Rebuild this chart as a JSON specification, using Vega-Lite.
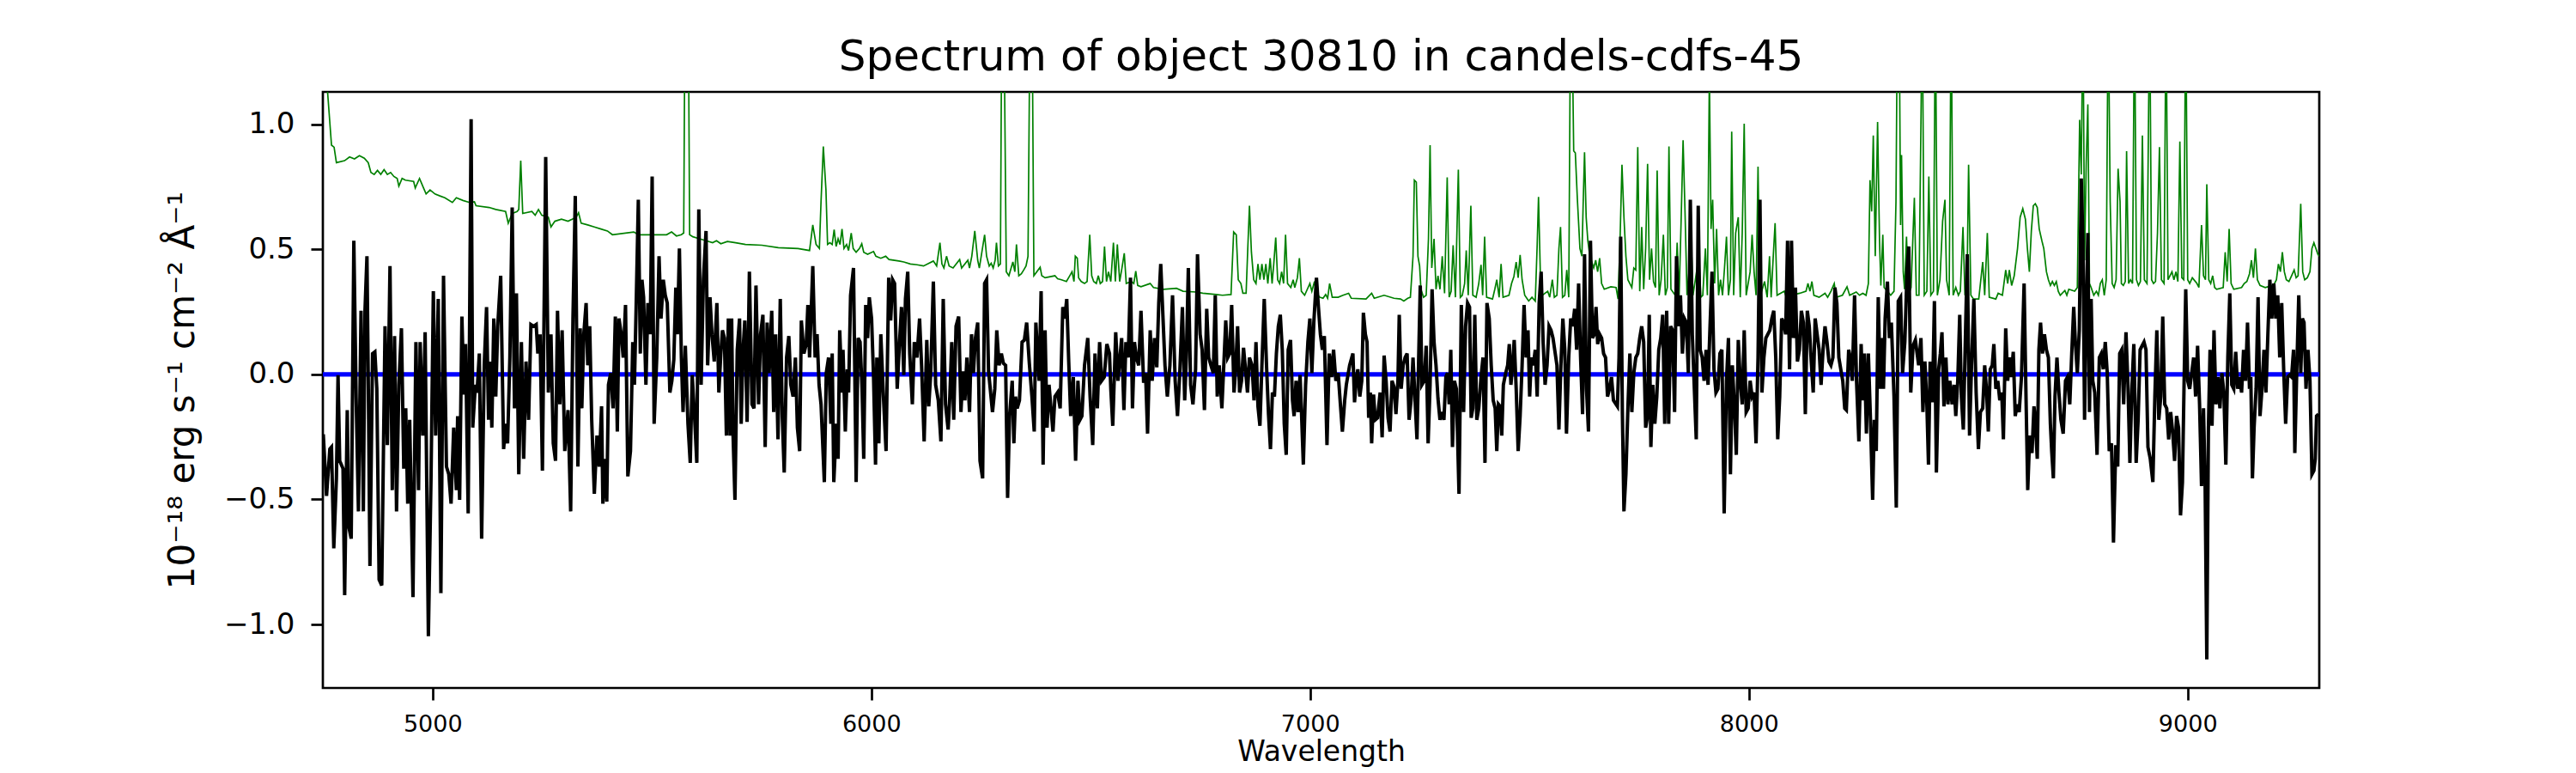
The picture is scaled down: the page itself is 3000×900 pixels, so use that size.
{
  "$schema": "https://vega.github.io/schema/vega-lite/v6.json",
  "description": "Spectrum of object 30810 with model (green) and zero level (blue).",
  "autosize": {"type": "none"},
  "padding": {"left": 376, "top": 107, "right": 299, "bottom": 100},
  "width": 2325,
  "height": 694,
  "background": "white",
  "title": {
    "text": "Spectrum of object 30810 in candels-cdfs-45",
    "font": "DejaVu Sans",
    "fontSize": 50,
    "fontWeight": "normal",
    "color": "black",
    "anchor": "middle",
    "baseline": "alphabetic",
    "offset": 22,
    "dy": 47
  },
  "config": {
    "view": {"stroke": "black", "strokeWidth": 2.7},
    "axis": {
      "domain": false,
      "grid": false,
      "ticks": true,
      "tickColor": "black",
      "tickWidth": 2.7,
      "tickSize": 14,
      "labelColor": "black",
      "labelFont": "DejaVu Sans",
      "titleFont": "DejaVu Sans",
      "titleFontWeight": "normal",
      "titleColor": "black"
    }
  },
  "datasets": {
    "model": [
      {"w":4751,"f":1.6},{"w":4760.7,"f":1.13},{"w":4769.7,"f":0.916},{"w":4775.6,"f":0.908},{"w":4780.9,"f":0.846},{"w":4799.6,"f":0.854},{"w":4810.8,"f":0.869},{"w":4822.1,"f":0.861},{"w":4833.3,"f":0.874},{"w":4844.5,"f":0.864},{"w":4853.5,"f":0.846},{"w":4859.5,"f":0.807},{"w":4867.0,"f":0.799},{"w":4874.5,"f":0.815},{"w":4882.0,"f":0.799},{"w":4889.5,"f":0.818},{"w":4897.0,"f":0.799},{"w":4904.4,"f":0.807},{"w":4911.9,"f":0.791},{"w":4919.4,"f":0.783},{"w":4923.2,"f":0.752},{"w":4930.6,"f":0.783},{"w":4938.1,"f":0.776},{"w":4956.9,"f":0.771},{"w":4960.6,"f":0.745},{"w":4970.3,"f":0.783},{"w":4977.8,"f":0.752},{"w":4985.3,"f":0.721},{"w":4994.3,"f":0.737},{"w":5005.5,"f":0.721},{"w":5016.8,"f":0.713},{"w":5028.0,"f":0.706},{"w":5045.2,"f":0.687},{"w":5054.2,"f":0.706},{"w":5069.2,"f":0.695},{"w":5084.2,"f":0.687},{"w":5095.4,"f":0.690},{"w":5099.1,"f":0.674},{"w":5129.1,"f":0.667},{"w":5144.1,"f":0.659},{"w":5166.5,"f":0.651},{"w":5172.5,"f":0.604},{"w":5181.5,"f":0.643},{"w":5192.7,"f":0.651},{"w":5196.5,"f":0.659},{"w":5201.0,"f":0.854},{"w":5205.5,"f":0.643},{"w":5226.4,"f":0.651},{"w":5233.9,"f":0.636},{"w":5241.4,"f":0.659},{"w":5248.9,"f":0.636},{"w":5263.9,"f":0.628},{"w":5269.9,"f":0.589},{"w":5278.8,"f":0.612},{"w":5293.8,"f":0.620},{"w":5308.8,"f":0.612},{"w":5327.5,"f":0.628},{"w":5332.8,"f":0.646},{"w":5338.7,"f":0.604},{"w":5353.7,"f":0.597},{"w":5368.7,"f":0.589},{"w":5383.7,"f":0.581},{"w":5398.6,"f":0.573},{"w":5409.9,"f":0.558},{"w":5458.5,"f":0.569},{"w":5469.8,"f":0.558},{"w":5533.4,"f":0.558},{"w":5544.7,"f":0.569},{"w":5555.9,"f":0.553},{"w":5567.1,"f":0.558},{"w":5572.4,"f":0.565},{"w":5575.4,"f":1.5},{"w":5578.4,"f":3.0},{"w":5582.8,"f":1.5},{"w":5585.9,"f":0.558},{"w":5593.3,"f":0.550},{"w":5608.3,"f":0.542},{"w":5623.3,"f":0.534},{"w":5638.3,"f":0.526},{"w":5647.2,"f":0.534},{"w":5657.0,"f":0.522},{"w":5672.0,"f":0.531},{"w":5690.7,"f":0.526},{"w":5713.1,"f":0.519},{"w":5750.6,"f":0.516},{"w":5788.0,"f":0.506},{"w":5833.0,"f":0.503},{"w":5859.2,"f":0.495},{"w":5866.6,"f":0.597},{"w":5874.1,"f":0.519},{"w":5881.6,"f":0.503},{"w":5885.4,"f":0.690},{"w":5890.6,"f":0.911},{"w":5896.6,"f":0.737},{"w":5900.3,"f":0.519},{"w":5905.5,"f":0.526},{"w":5910.8,"f":0.519},{"w":5915.3,"f":0.578},{"w":5919.8,"f":0.511},{"w":5924.3,"f":0.542},{"w":5928.7,"f":0.519},{"w":5933.2,"f":0.581},{"w":5937.7,"f":0.503},{"w":5943.7,"f":0.519},{"w":5948.2,"f":0.495},{"w":5954.2,"f":0.565},{"w":5958.7,"f":0.503},{"w":5965.4,"f":0.488},{"w":5972.9,"f":0.503},{"w":5978.2,"f":0.522},{"w":5982.7,"f":0.488},{"w":5991.6,"f":0.480},{"w":6005.1,"f":0.491},{"w":6010.4,"f":0.472},{"w":6021.6,"f":0.464},{"w":6032.8,"f":0.472},{"w":6040.3,"f":0.459},{"w":6062.8,"f":0.453},{"w":6074.0,"f":0.449},{"w":6089.0,"f":0.441},{"w":6104.0,"f":0.438},{"w":6119.0,"f":0.433},{"w":6141.4,"f":0.453},{"w":6148.9,"f":0.433},{"w":6156.4,"f":0.526},{"w":6160.9,"f":0.441},{"w":6165.4,"f":0.425},{"w":6171.4,"f":0.472},{"w":6177.3,"f":0.433},{"w":6186.3,"f":0.425},{"w":6201.3,"f":0.459},{"w":6205.8,"f":0.425},{"w":6220.0,"f":0.456},{"w":6223.8,"f":0.425},{"w":6229.0,"f":0.472},{"w":6235.8,"f":0.573},{"w":6242.5,"f":0.456},{"w":6246.2,"f":0.425},{"w":6258.2,"f":0.558},{"w":6262.7,"f":0.472},{"w":6268.7,"f":0.433},{"w":6273.2,"f":0.444},{"w":6277.7,"f":0.425},{"w":6282.2,"f":0.456},{"w":6285.2,"f":0.526},{"w":6289.7,"f":0.433},{"w":6294.2,"f":0.441},{"w":6296.5,"f":1.2},{"w":6300.0,"f":3.0},{"w":6303.5,"f":1.2},{"w":6307.6,"f":0.410},{"w":6313.6,"f":0.394},{"w":6322.6,"f":0.449},{"w":6327.1,"f":0.410},{"w":6330.8,"f":0.519},{"w":6336.1,"f":0.394},{"w":6342.1,"f":0.402},{"w":6347.3,"f":0.417},{"w":6352.6,"f":0.433},{"w":6357.1,"f":0.472},{"w":6361.0,"f":1.3},{"w":6364.0,"f":3.0},{"w":6367.0,"f":1.3},{"w":6370.5,"f":0.394},{"w":6384.8,"f":0.428},{"w":6388.5,"f":0.394},{"w":6396.0,"f":0.386},{"w":6418.5,"f":0.394},{"w":6424.5,"f":0.382},{"w":6433.4,"f":0.378},{"w":6444.7,"f":0.371},{"w":6452.2,"f":0.394},{"w":6457.4,"f":0.410},{"w":6461.9,"f":0.371},{"w":6464.9,"f":0.472},{"w":6469.4,"f":0.464},{"w":6472.4,"f":0.386},{"w":6478.4,"f":0.371},{"w":6485.9,"f":0.363},{"w":6491.8,"f":0.371},{"w":6497.8,"f":0.558},{"w":6502.3,"f":0.394},{"w":6506.8,"f":0.371},{"w":6512.8,"f":0.363},{"w":6517.3,"f":0.394},{"w":6521.8,"f":0.363},{"w":6527.0,"f":0.371},{"w":6531.5,"f":0.511},{"w":6536.0,"f":0.371},{"w":6540.5,"f":0.410},{"w":6545.8,"f":0.371},{"w":6551.8,"f":0.526},{"w":6556.2,"f":0.371},{"w":6560.7,"f":0.519},{"w":6566.0,"f":0.371},{"w":6571.2,"f":0.425},{"w":6576.5,"f":0.484},{"w":6581.0,"f":0.363},{"w":6592.9,"f":0.371},{"w":6598.2,"f":0.363},{"w":6602.7,"f":0.413},{"w":6607.1,"f":0.355},{"w":6614.6,"f":0.350},{"w":6635.6,"f":0.363},{"w":6643.1,"f":0.347},{"w":6665.6,"f":0.340},{"w":6695.5,"f":0.344},{"w":6710.5,"f":0.332},{"w":6740.4,"f":0.329},{"w":6755.4,"f":0.324},{"w":6785.4,"f":0.319},{"w":6800.4,"f":0.316},{"w":6819.8,"f":0.319},{"w":6825.8,"f":0.569},{"w":6831.8,"f":0.558},{"w":6836.3,"f":0.378},{"w":6842.3,"f":0.363},{"w":6846.8,"f":0.324},{"w":6854.2,"f":0.324},{"w":6858.0,"f":0.503},{"w":6861.8,"f":0.674},{"w":6866.3,"f":0.488},{"w":6871.5,"f":0.378},{"w":6876.7,"f":0.363},{"w":6881.2,"f":0.441},{"w":6885.7,"f":0.378},{"w":6890.2,"f":0.441},{"w":6894.7,"f":0.378},{"w":6899.2,"f":0.441},{"w":6903.7,"f":0.363},{"w":6909.0,"f":0.464},{"w":6913.4,"f":0.363},{"w":6917.2,"f":0.441},{"w":6921.7,"f":0.547},{"w":6926.1,"f":0.378},{"w":6930.6,"f":0.363},{"w":6935.1,"f":0.410},{"w":6939.6,"f":0.363},{"w":6944.1,"f":0.558},{"w":6948.6,"f":0.363},{"w":6956.1,"f":0.347},{"w":6961.4,"f":0.378},{"w":6965.1,"f":0.347},{"w":6971.1,"f":0.386},{"w":6975.6,"f":0.464},{"w":6980.1,"f":0.332},{"w":6987.6,"f":0.316},{"w":6999.5,"f":0.363},{"w":7004.0,"f":0.332},{"w":7010.0,"f":0.371},{"w":7014.5,"f":0.324},{"w":7022.0,"f":0.308},{"w":7029.5,"f":0.304},{"w":7035.5,"f":0.319},{"w":7040.0,"f":0.304},{"w":7044.5,"f":0.363},{"w":7050.5,"f":0.308},{"w":7063.9,"f":0.308},{"w":7075.1,"f":0.316},{"w":7087.8,"f":0.324},{"w":7093.8,"f":0.304},{"w":7127.5,"f":0.301},{"w":7140.3,"f":0.324},{"w":7146.2,"f":0.304},{"w":7168.7,"f":0.316},{"w":7191.2,"f":0.304},{"w":7206.1,"f":0.301},{"w":7213.6,"f":0.293},{"w":7222.6,"f":0.304},{"w":7228.6,"f":0.308},{"w":7234.6,"f":0.472},{"w":7237.6,"f":0.776},{"w":7242.1,"f":0.768},{"w":7245.8,"f":0.472},{"w":7249.6,"f":0.433},{"w":7252.6,"f":0.340},{"w":7258.6,"f":0.308},{"w":7264.6,"f":0.316},{"w":7269.8,"f":0.542},{"w":7273.5,"f":0.916},{"w":7277.3,"f":0.425},{"w":7282.5,"f":0.542},{"w":7287.0,"f":0.340},{"w":7291.5,"f":0.394},{"w":7296.0,"f":0.340},{"w":7301.2,"f":0.472},{"w":7306.5,"f":0.324},{"w":7312.5,"f":0.787},{"w":7317.0,"f":0.308},{"w":7321.5,"f":0.332},{"w":7326.0,"f":0.516},{"w":7331.2,"f":0.308},{"w":7337.9,"f":0.818},{"w":7342.4,"f":0.308},{"w":7346.9,"f":0.316},{"w":7352.2,"f":0.363},{"w":7355.9,"f":0.495},{"w":7360.4,"f":0.316},{"w":7366.4,"f":0.674},{"w":7370.9,"f":0.316},{"w":7378.4,"f":0.308},{"w":7384.4,"f":0.363},{"w":7389.6,"f":0.438},{"w":7393.3,"f":0.316},{"w":7397.8,"f":0.550},{"w":7402.3,"f":0.308},{"w":7415.8,"f":0.301},{"w":7421.0,"f":0.340},{"w":7425.5,"f":0.378},{"w":7430.8,"f":0.308},{"w":7435.3,"f":0.441},{"w":7439.8,"f":0.308},{"w":7453.3,"f":0.316},{"w":7459.2,"f":0.363},{"w":7464.5,"f":0.391},{"w":7469.7,"f":0.449},{"w":7474.2,"f":0.386},{"w":7478.7,"f":0.477},{"w":7483.2,"f":0.378},{"w":7489.2,"f":0.316},{"w":7498.2,"f":0.293},{"w":7505.7,"f":0.308},{"w":7513.2,"f":0.293},{"w":7517.6,"f":0.519},{"w":7520.6,"f":0.709},{"w":7525.1,"f":0.378},{"w":7529.6,"f":0.316},{"w":7541.6,"f":0.332},{"w":7546.1,"f":0.308},{"w":7552.1,"f":0.378},{"w":7556.6,"f":0.308},{"w":7562.6,"f":0.316},{"w":7567.1,"f":0.503},{"w":7570.8,"f":0.589},{"w":7575.3,"f":0.308},{"w":7580.5,"f":0.316},{"w":7585.0,"f":0.417},{"w":7589.5,"f":0.308},{"w":7594.0,"f":1.6},{"w":7597.8,"f":1.3},{"w":7600.8,"f":0.893},{"w":7604.5,"f":0.885},{"w":7609.0,"f":0.706},{"w":7615.0,"f":0.503},{"w":7619.5,"f":0.472},{"w":7622.5,"f":0.690},{"w":7625.5,"f":0.888},{"w":7629.2,"f":0.628},{"w":7633.0,"f":0.534},{"w":7637.5,"f":0.472},{"w":7642.0,"f":0.449},{"w":7646.4,"f":0.425},{"w":7650.9,"f":0.456},{"w":7655.4,"f":0.410},{"w":7659.9,"f":0.464},{"w":7664.4,"f":0.363},{"w":7670.4,"f":0.340},{"w":7685.4,"f":0.350},{"w":7697.4,"f":0.347},{"w":7701.9,"f":0.301},{"w":7706.4,"f":0.534},{"w":7710.8,"f":0.838},{"w":7715.3,"f":0.628},{"w":7719.8,"f":0.472},{"w":7724.3,"f":0.378},{"w":7733.3,"f":0.347},{"w":7737.8,"f":0.425},{"w":7742.3,"f":0.417},{"w":7746.8,"f":0.908},{"w":7751.3,"f":0.332},{"w":7755.8,"f":0.589},{"w":7760.3,"f":0.340},{"w":7764.8,"f":0.503},{"w":7769.2,"f":0.841},{"w":7773.7,"f":0.378},{"w":7778.2,"f":0.503},{"w":7782.7,"f":0.371},{"w":7787.2,"f":0.347},{"w":7791.0,"f":0.815},{"w":7795.5,"f":0.316},{"w":7800.0,"f":0.378},{"w":7805.2,"f":0.558},{"w":7809.7,"f":0.316},{"w":7814.2,"f":0.347},{"w":7817.9,"f":0.911},{"w":7822.4,"f":0.340},{"w":7832.2,"f":0.316},{"w":7836.6,"f":0.526},{"w":7841.1,"f":0.316},{"w":7845.6,"f":0.612},{"w":7850.1,"f":0.936},{"w":7854.6,"f":0.643},{"w":7859.1,"f":0.316},{"w":7863.6,"f":0.410},{"w":7868.1,"f":0.565},{"w":7872.6,"f":0.316},{"w":7886.1,"f":0.472},{"w":7890.6,"f":0.308},{"w":7895.0,"f":0.316},{"w":7901.0,"f":0.503},{"w":7905.5,"f":0.316},{"w":7910.0,"f":1.2},{"w":7913.8,"f":0.581},{"w":7917.5,"f":0.698},{"w":7922.0,"f":0.363},{"w":7926.5,"f":0.581},{"w":7931.0,"f":0.316},{"w":7935.5,"f":0.378},{"w":7940.0,"f":0.316},{"w":7944.5,"f":0.425},{"w":7949.0,"f":0.550},{"w":7953.5,"f":0.316},{"w":7958.0,"f":0.378},{"w":7960.9,"f":0.970},{"w":7965.4,"f":0.316},{"w":7969.9,"f":0.565},{"w":7975.9,"f":0.628},{"w":7980.4,"f":0.308},{"w":7984.9,"f":0.565},{"w":7989.4,"f":1.002},{"w":7993.9,"f":0.316},{"w":8002.9,"f":0.410},{"w":8007.4,"f":0.558},{"w":8011.9,"f":0.410},{"w":8016.4,"f":0.316},{"w":8020.9,"f":0.830},{"w":8025.3,"f":0.308},{"w":8035.8,"f":0.371},{"w":8041.8,"f":0.308},{"w":8047.1,"f":0.472},{"w":8050.8,"f":0.308},{"w":8056.1,"f":0.488},{"w":8059.8,"f":0.604},{"w":8064.3,"f":0.316},{"w":8080.8,"f":0.332},{"w":8085.3,"f":0.308},{"w":8097.2,"f":0.316},{"w":8115.9,"f":0.324},{"w":8130.2,"f":0.332},{"w":8134.7,"f":0.363},{"w":8139.2,"f":0.332},{"w":8143.7,"f":0.371},{"w":8148.2,"f":0.316},{"w":8160.1,"f":0.308},{"w":8173.6,"f":0.324},{"w":8179.6,"f":0.308},{"w":8187.1,"f":0.332},{"w":8194.6,"f":0.363},{"w":8199.1,"f":0.308},{"w":8213.3,"f":0.316},{"w":8223.7,"f":0.350},{"w":8229.7,"f":0.316},{"w":8244.7,"f":0.329},{"w":8252.2,"f":0.316},{"w":8259.7,"f":0.324},{"w":8267.1,"f":0.316},{"w":8272.4,"f":0.363},{"w":8276.1,"f":0.776},{"w":8279.9,"f":0.651},{"w":8283.6,"f":0.955},{"w":8288.1,"f":0.472},{"w":8293.4,"f":1.009},{"w":8297.8,"f":0.534},{"w":8300.8,"f":0.355},{"w":8305.3,"f":0.558},{"w":8308.3,"f":0.347},{"w":8323.3,"f":0.316},{"w":8330.8,"f":0.332},{"w":8335.3,"f":0.690},{"w":8338.3,"f":1.4},{"w":8342.8,"f":1.4},{"w":8345.8,"f":0.597},{"w":8348.0,"f":0.877},{"w":8351.8,"f":0.410},{"w":8354.8,"f":0.340},{"w":8359.3,"f":0.550},{"w":8363.7,"f":0.316},{"w":8369.7,"f":0.347},{"w":8377.2,"f":0.706},{"w":8381.7,"f":0.316},{"w":8387.7,"f":0.316},{"w":8392.2,"f":1.002},{"w":8395.2,"f":1.5},{"w":8399.7,"f":0.316},{"w":8405.7,"f":0.332},{"w":8410.2,"f":0.791},{"w":8414.7,"f":0.316},{"w":8420.7,"f":0.332},{"w":8425.1,"f":1.5},{"w":8429.6,"f":0.316},{"w":8435.6,"f":0.378},{"w":8441.6,"f":0.612},{"w":8446.9,"f":0.698},{"w":8450.6,"f":0.378},{"w":8456.6,"f":0.316},{"w":8461.1,"f":1.5},{"w":8465.6,"f":0.316},{"w":8471.6,"f":0.347},{"w":8477.6,"f":0.316},{"w":8482.0,"f":0.332},{"w":8488.0,"f":0.589},{"w":8492.5,"f":0.316},{"w":8497.0,"f":0.332},{"w":8500.8,"f":0.838},{"w":8506.0,"f":0.316},{"w":8512.0,"f":0.301},{"w":8524.0,"f":0.301},{"w":8533.0,"f":0.449},{"w":8537.5,"f":0.316},{"w":8543.5,"f":0.565},{"w":8547.9,"f":0.308},{"w":8562.9,"f":0.301},{"w":8568.2,"f":0.324},{"w":8577.9,"f":0.316},{"w":8585.4,"f":0.417},{"w":8589.9,"f":0.363},{"w":8593.6,"f":0.417},{"w":8598.9,"f":0.355},{"w":8604.8,"f":0.394},{"w":8612.3,"f":0.503},{"w":8618.3,"f":0.628},{"w":8624.3,"f":0.662},{"w":8630.3,"f":0.620},{"w":8634.8,"f":0.503},{"w":8639.3,"f":0.410},{"w":8643.8,"f":0.573},{"w":8648.3,"f":0.674},{"w":8652.8,"f":0.682},{"w":8657.3,"f":0.667},{"w":8661.8,"f":0.581},{"w":8667.8,"f":0.534},{"w":8672.2,"f":0.503},{"w":8678.2,"f":0.410},{"w":8682.7,"f":0.378},{"w":8687.2,"f":0.355},{"w":8691.7,"f":0.371},{"w":8696.2,"f":0.355},{"w":8700.7,"f":0.371},{"w":8705.2,"f":0.332},{"w":8709.7,"f":0.316},{"w":8720.2,"f":0.335},{"w":8724.7,"f":0.316},{"w":8729.2,"f":0.340},{"w":8742.6,"f":0.332},{"w":8748.6,"f":0.347},{"w":8753.9,"f":1.017},{"w":8757.6,"f":0.799},{"w":8761.4,"f":1.5},{"w":8765.1,"f":0.456},{"w":8768.9,"f":0.846},{"w":8772.6,"f":1.079},{"w":8776.3,"f":0.363},{"w":8780.1,"f":0.347},{"w":8786.1,"f":0.316},{"w":8792.1,"f":0.332},{"w":8796.6,"f":0.316},{"w":8801.0,"f":0.363},{"w":8805.5,"f":0.378},{"w":8810.0,"f":0.316},{"w":8814.5,"f":0.378},{"w":8819.0,"f":1.5},{"w":8823.5,"f":0.690},{"w":8828.0,"f":0.363},{"w":8832.5,"f":0.347},{"w":8837.0,"f":0.378},{"w":8841.5,"f":0.822},{"w":8846.0,"f":0.690},{"w":8849.0,"f":0.363},{"w":8853.5,"f":0.355},{"w":8857.9,"f":0.371},{"w":8860.9,"f":0.892},{"w":8865.4,"f":0.363},{"w":8869.9,"f":0.378},{"w":8874.4,"f":0.363},{"w":8878.9,"f":1.5},{"w":8883.4,"f":0.378},{"w":8887.9,"f":0.355},{"w":8892.4,"f":0.371},{"w":8896.9,"f":0.955},{"w":8901.4,"f":0.378},{"w":8907.4,"f":0.363},{"w":8913.4,"f":1.5},{"w":8917.9,"f":0.378},{"w":8922.3,"f":0.363},{"w":8926.8,"f":0.371},{"w":8931.3,"f":0.565},{"w":8935.8,"f":0.908},{"w":8940.3,"f":0.378},{"w":8946.3,"f":0.363},{"w":8950.8,"f":1.5},{"w":8955.3,"f":0.378},{"w":8964.3,"f":0.410},{"w":8968.8,"f":0.378},{"w":8973.3,"f":0.410},{"w":8977.8,"f":0.371},{"w":8982.3,"f":0.931},{"w":8986.8,"f":0.386},{"w":8991.2,"f":0.378},{"w":8995.7,"f":1.5},{"w":9000.2,"f":0.378},{"w":9004.7,"f":0.363},{"w":9010.7,"f":0.386},{"w":9021.2,"f":0.363},{"w":9025.7,"f":0.347},{"w":9031.7,"f":0.597},{"w":9036.2,"f":0.394},{"w":9040.7,"f":0.378},{"w":9043.7,"f":0.760},{"w":9048.2,"f":0.378},{"w":9052.6,"f":0.363},{"w":9057.1,"f":0.394},{"w":9061.6,"f":0.347},{"w":9066.1,"f":0.340},{"w":9081.1,"f":0.347},{"w":9085.6,"f":0.488},{"w":9090.1,"f":0.371},{"w":9094.6,"f":0.581},{"w":9099.1,"f":0.363},{"w":9105.1,"f":0.340},{"w":9123.0,"f":0.347},{"w":9129.0,"f":0.363},{"w":9135.0,"f":0.371},{"w":9141.0,"f":0.402},{"w":9145.5,"f":0.456},{"w":9150.0,"f":0.386},{"w":9154.5,"f":0.503},{"w":9159.0,"f":0.378},{"w":9165.0,"f":0.355},{"w":9177.0,"f":0.347},{"w":9191.9,"f":0.355},{"w":9197.9,"f":0.363},{"w":9202.4,"f":0.378},{"w":9206.9,"f":0.441},{"w":9211.4,"f":0.410},{"w":9215.9,"f":0.488},{"w":9220.4,"f":0.410},{"w":9224.9,"f":0.378},{"w":9230.9,"f":0.371},{"w":9236.9,"f":0.394},{"w":9242.8,"f":0.417},{"w":9247.3,"f":0.386},{"w":9251.8,"f":0.394},{"w":9257.8,"f":0.682},{"w":9262.3,"f":0.410},{"w":9266.8,"f":0.378},{"w":9272.8,"f":0.386},{"w":9278.8,"f":0.410},{"w":9283.3,"f":0.503},{"w":9287.8,"f":0.526},{"w":9292.3,"f":0.503},{"w":9296.8,"f":0.480},{"w":9300.5,"f":0.472}
    ],
    "flux": [
      {"w":4751,"f":-0.240},{"w":4758.4,"f":-0.486},{"w":4765.9,"f":-0.299},{"w":4769.7,"f":-0.291},{"w":4774.9,"f":-0.696},{"w":4780.9,"f":-0.416},{"w":4784.6,"f":-0.003},{"w":4788.4,"f":-0.346},{"w":4795.9,"f":-0.377},{"w":4799.7,"f":-0.883},{"w":4805.6,"f":-0.143},{"w":4809.3,"f":-0.611},{"w":4814.6,"f":-0.657},{"w":4820.6,"f":0.534},{"w":4825.8,"f":-0.089},{"w":4831.1,"f":-0.548},{"w":4837.0,"f":0.254},{"w":4842.3,"f":-0.548},{"w":4846.0,"f":0.254},{"w":4850.5,"f":0.472},{"w":4853.5,"f":-0.026},{"w":4857.3,"f":-0.766},{"w":4863.3,"f":0.083},{"w":4868.5,"f":0.090},{"w":4873.0,"f":-0.058},{"w":4878.2,"f":-0.821},{"w":4884.2,"f":-0.844},{"w":4891.7,"f":0.192},{"w":4897.0,"f":-0.283},{"w":4903.0,"f":0.433},{"w":4908.2,"f":-0.463},{"w":4913.4,"f":0.153},{"w":4917.9,"f":-0.548},{"w":4923.2,"f":-0.042},{"w":4929.1,"f":0.184},{"w":4934.4,"f":-0.377},{"w":4938.9,"f":-0.136},{"w":4943.4,"f":-0.517},{"w":4947.9,"f":-0.182},{"w":4955.4,"f":-0.891},{"w":4962.1,"f":0.129},{"w":4968.1,"f":-0.463},{"w":4971.8,"f":0.129},{"w":4977.8,"f":-0.245},{"w":4983.1,"f":0.168},{"w":4990.5,"f":-1.047},{"w":4996.5,"f":-0.416},{"w":5001.8,"f":0.332},{"w":5007.0,"f":-0.245},{"w":5013.0,"f":0.301},{"w":5019.0,"f":-0.875},{"w":5025.0,"f":0.394},{"w":5031.7,"f":-0.369},{"w":5037.0,"f":-0.400},{"w":5042.2,"f":-0.517},{"w":5048.2,"f":-0.213},{"w":5054.2,"f":-0.463},{"w":5057.2,"f":-0.167},{"w":5061.7,"f":-0.502},{"w":5066.9,"f":0.231},{"w":5071.4,"f":-0.081},{"w":5075.2,"f":0.121},{"w":5081.2,"f":-0.556},{"w":5087.9,"f":1.020},{"w":5091.6,"f":-0.213},{"w":5097.6,"f":-0.042},{"w":5101.4,"f":-0.073},{"w":5106.6,"f":0.083},{"w":5111.9,"f":-0.657},{"w":5117.8,"f":0.036},{"w":5123.1,"f":0.269},{"w":5127.6,"f":-0.182},{"w":5130.6,"f":0.051},{"w":5135.1,"f":-0.213},{"w":5139.6,"f":0.223},{"w":5144.1,"f":-0.089},{"w":5148.5,"f":0.192},{"w":5155.3,"f":0.394},{"w":5162.0,"f":-0.299},{"w":5166.5,"f":-0.198},{"w":5171.0,"f":-0.276},{"w":5176.2,"f":0.067},{"w":5181.5,"f":0.667},{"w":5186.7,"f":-0.136},{"w":5191.2,"f":0.324},{"w":5196.5,"f":-0.400},{"w":5202.5,"f":0.129},{"w":5207.7,"f":-0.338},{"w":5213.0,"f":0.051},{"w":5218.9,"f":-0.182},{"w":5224.2,"f":0.199},{"w":5230.2,"f":0.192},{"w":5236.2,"f":0.199},{"w":5239.9,"f":0.083},{"w":5245.1,"f":0.160},{"w":5250.4,"f":-0.385},{"w":5257.9,"f":0.869},{"w":5263.9,"f":-0.073},{"w":5269.9,"f":0.160},{"w":5275.1,"f":-0.276},{"w":5280.3,"f":-0.346},{"w":5284.8,"f":0.254},{"w":5290.1,"f":-0.120},{"w":5295.3,"f":0.176},{"w":5301.3,"f":-0.307},{"w":5308.8,"f":-0.143},{"w":5314.8,"f":-0.548},{"w":5320.0,"f":0.223},{"w":5325.3,"f":0.713},{"w":5331.3,"f":-0.369},{"w":5336.5,"f":0.184},{"w":5340.2,"f":-0.136},{"w":5344.7,"f":0.160},{"w":5350.0,"f":0.285},{"w":5353.7,"f":0.036},{"w":5358.2,"f":0.192},{"w":5362.7,"f":-0.182},{"w":5368.7,"f":-0.478},{"w":5374.7,"f":-0.245},{"w":5379.9,"f":-0.369},{"w":5385.2,"f":-0.128},{"w":5388.2,"f":-0.517},{"w":5392.6,"f":-0.338},{"w":5397.1,"f":-0.509},{"w":5400.9,"f":-0.042},{"w":5406.1,"f":0.005},{"w":5411.4,"f":-0.136},{"w":5416.6,"f":0.231},{"w":5421.1,"f":-0.229},{"w":5424.9,"f":0.223},{"w":5430.1,"f":0.160},{"w":5434.6,"f":0.067},{"w":5439.8,"f":0.277},{"w":5445.1,"f":-0.408},{"w":5451.1,"f":-0.307},{"w":5456.3,"f":0.129},{"w":5460.1,"f":-0.042},{"w":5463.8,"f":0.254},{"w":5469.0,"f":0.698},{"w":5473.5,"f":0.083},{"w":5477.3,"f":0.378},{"w":5481.0,"f":0.308},{"w":5486.3,"f":-0.042},{"w":5490.8,"f":0.285},{"w":5496.0,"f":0.160},{"w":5500.5,"f":0.791},{"w":5505.0,"f":-0.198},{"w":5511.0,"f":0.067},{"w":5516.2,"f":0.472},{"w":5520.7,"f":0.223},{"w":5525.9,"f":0.378},{"w":5530.4,"f":0.316},{"w":5534.9,"f":0.285},{"w":5540.9,"f":-0.073},{"w":5545.4,"f":-0.026},{"w":5549.9,"f":0.059},{"w":5554.4,"f":0.347},{"w":5558.1,"f":0.160},{"w":5562.6,"f":0.503},{"w":5567.1,"f":0.067},{"w":5570.9,"f":-0.151},{"w":5576.1,"f":0.114},{"w":5582.1,"f":-0.198},{"w":5587.3,"f":-0.354},{"w":5591.8,"f":-0.003},{"w":5597.1,"f":-0.167},{"w":5602.3,"f":-0.354},{"w":5606.8,"f":0.659},{"w":5612.1,"f":-0.042},{"w":5617.3,"f":0.378},{"w":5623.3,"f":0.573},{"w":5627.0,"f":0.036},{"w":5632.3,"f":0.308},{"w":5636.8,"f":0.160},{"w":5642.0,"f":0.051},{"w":5648.0,"f":0.285},{"w":5652.5,"f":-0.073},{"w":5657.0,"f":0.083},{"w":5660.7,"f":0.176},{"w":5665.2,"f":0.145},{"w":5669.7,"f":-0.245},{"w":5674.2,"f":0.223},{"w":5678.0,"f":-0.245},{"w":5681.7,"f":0.223},{"w":5684.7,"f":-0.229},{"w":5689.2,"f":-0.502},{"w":5694.4,"f":0.098},{"w":5699.7,"f":0.223},{"w":5703.4,"f":-0.198},{"w":5707.2,"f":0.083},{"w":5711.7,"f":0.215},{"w":5716.9,"f":-0.190},{"w":5722.1,"f":0.410},{"w":5728.1,"f":-0.120},{"w":5732.6,"f":-0.136},{"w":5737.1,"f":0.355},{"w":5743.1,"f":-0.120},{"w":5747.6,"f":0.160},{"w":5752.9,"f":0.238},{"w":5758.1,"f":-0.291},{"w":5762.6,"f":0.207},{"w":5767.1,"f":0.005},{"w":5773.0,"f":0.254},{"w":5777.5,"f":-0.151},{"w":5782.0,"f":0.160},{"w":5787.3,"f":-0.260},{"w":5792.5,"f":0.301},{"w":5797.0,"f":-0.167},{"w":5801.5,"f":-0.393},{"w":5806.8,"f":0.067},{"w":5812.0,"f":0.153},{"w":5816.5,"f":-0.042},{"w":5821.7,"f":-0.089},{"w":5827.0,"f":0.067},{"w":5831.5,"f":-0.213},{"w":5836.7,"f":-0.307},{"w":5840.5,"f":0.215},{"w":5846.4,"f":0.083},{"w":5851.7,"f":0.121},{"w":5855.4,"f":0.277},{"w":5859.2,"f":0.067},{"w":5866.6,"f":0.433},{"w":5871.9,"f":0.067},{"w":5876.4,"f":0.160},{"w":5880.9,"f":-0.042},{"w":5885.4,"f":-0.120},{"w":5892.9,"f":-0.431},{"w":5897.3,"f":0.005},{"w":5902.6,"f":0.067},{"w":5907.8,"f":-0.198},
      {"w":5910.8,"f":0.083},{"w":5914.5,"f":-0.431},{"w":5920.5,"f":-0.198},{"w":5924.3,"f":-0.338},{"w":5928.0,"f":0.176},{"w":5933.2,"f":-0.073},{"w":5935.5,"f":0.098},{"w":5940.7,"f":-0.229},{"w":5945.2,"f":0.020},{"w":5948.2,"f":-0.073},{"w":5952.7,"f":0.316},{"w":5959.4,"f":0.425},{"w":5965.4,"f":-0.431},{"w":5969.9,"f":0.145},{"w":5974.4,"f":0.129},{"w":5978.9,"f":-0.058},{"w":5982.7,"f":-0.338},{"w":5987.2,"f":0.277},{"w":5991.6,"f":0.145},{"w":5995.4,"f":0.308},{"w":6000.6,"f":0.223},{"w":6005.1,"f":-0.011},{"w":6009.6,"f":-0.361},{"w":6012.6,"f":0.067},{"w":6017.1,"f":-0.276},{"w":6021.6,"f":0.160},{"w":6027.6,"f":-0.089},{"w":6033.6,"f":-0.307},{"w":6039.6,"f":0.386},{"w":6044.1,"f":0.215},{"w":6048.5,"f":0.378},{"w":6053.0,"f":0.363},{"w":6059.0,"f":-0.058},{"w":6064.3,"f":0.129},{"w":6068.8,"f":0.269},{"w":6074.0,"f":-0.003},{"w":6077.8,"f":0.301},{"w":6083.0,"f":0.410},{"w":6087.5,"f":0.083},{"w":6093.5,"f":-0.120},{"w":6098.0,"f":0.129},{"w":6104.0,"f":0.067},{"w":6110.0,"f":0.223},{"w":6114.5,"f":0.036},{"w":6120.4,"f":-0.268},{"w":6126.4,"f":0.137},{"w":6130.9,"f":-0.128},{"w":6135.4,"f":0.005},{"w":6141.4,"f":0.371},{"w":6146.6,"f":-0.042},{"w":6152.6,"f":-0.104},{"w":6158.6,"f":-0.268},{"w":6163.9,"f":0.301},{"w":6169.1,"f":-0.120},{"w":6175.1,"f":-0.221},{"w":6178.9,"f":-0.089},{"w":6183.3,"f":0.129},{"w":6187.8,"f":-0.182},{"w":6193.1,"f":0.192},{"w":6199.1,"f":0.231},{"w":6204.3,"f":-0.151},{"w":6208.8,"f":0.012},{"w":6213.3,"f":-0.104},{"w":6217.8,"f":0.067},{"w":6223.8,"f":-0.151},{"w":6228.3,"f":0.160},{"w":6232.8,"f":0.005},{"w":6237.3,"f":0.145},{"w":6242.5,"f":0.207},{"w":6247.7,"f":-0.346},{"w":6253.7,"f":-0.416},{"w":6258.2,"f":0.363},{"w":6262.7,"f":0.378},{"w":6267.2,"f":0.012},{"w":6276.2,"f":-0.151},{"w":6281.4,"f":-0.058},{"w":6285.9,"f":0.176},{"w":6291.2,"f":0.036},{"w":6296.4,"f":0.083},{"w":6300.9,"f":0.044},{"w":6306.1,"f":0.036},{"w":6310.6,"f":-0.494},{"w":6315.1,"f":-0.167},{"w":6321.1,"f":-0.026},{"w":6324.9,"f":-0.276},{"w":6328.6,"f":-0.089},{"w":6332.4,"f":-0.136},{"w":6337.6,"f":-0.104},{"w":6343.6,"f":0.129},{"w":6348.8,"f":0.137},{"w":6354.1,"f":0.207},{"w":6360.1,"f":0.044},{"w":6366.0,"f":-0.089},{"w":6371.3,"f":-0.229},{"w":6375.0,"f":0.207},{"w":6379.5,"f":0.067},{"w":6382.5,"f":-0.026},{"w":6387.0,"f":0.332},{"w":6391.5,"f":-0.361},{"w":6396.0,"f":0.176},{"w":6400.5,"f":-0.213},{"w":6405.0,"f":-0.042},{"w":6414.0,"f":-0.229},{"w":6418.5,"f":-0.089},{"w":6424.5,"f":-0.073},{"w":6430.4,"f":-0.136},{"w":6436.4,"f":0.269},{"w":6440.9,"f":0.223},{"w":6445.4,"f":0.301},{"w":6449.9,"f":0.051},{"w":6454.4,"f":-0.167},{"w":6460.4,"f":-0.011},{"w":6465.6,"f":-0.346},{"w":6470.9,"f":-0.026},{"w":6475.4,"f":-0.182},{"w":6479.9,"f":-0.167},{"w":6485.9,"f":0.036},{"w":6493.3,"f":0.145},{"w":6498.6,"f":-0.089},{"w":6504.6,"f":-0.283},{"w":6509.8,"f":0.083},{"w":6515.1,"f":-0.136},{"w":6520.3,"f":0.129},{"w":6524.8,"f":-0.026},{"w":6530.8,"f":-0.011},{"w":6536.8,"f":0.121},{"w":6542.8,"f":0.083},{"w":6545.8,"f":-0.058},{"w":6550.3,"f":-0.206},{"w":6557.0,"f":0.168},{"w":6562.2,"f":-0.026},{"w":6566.7,"f":0.067},{"w":6570.5,"f":0.145},{"w":6575.7,"f":-0.143},{"w":6580.2,"f":0.129},{"w":6585.5,"f":0.067},{"w":6590.7,"f":0.386},{"w":6595.2,"f":-0.136},{"w":6599.7,"f":0.129},{"w":6604.2,"f":0.067},{"w":6609.4,"f":0.036},{"w":6614.6,"f":0.254},{"w":6620.6,"f":-0.034},{"w":6625.1,"f":0.005},{"w":6629.6,"f":-0.237},{"w":6635.6,"f":0.176},{"w":6640.1,"f":-0.026},{"w":6645.4,"f":0.145},{"w":6650.6,"f":0.028},{"w":6655.1,"f":0.285},{"w":6659.6,"f":0.441},{"w":6664.1,"f":0.254},{"w":6669.3,"f":0.036},{"w":6674.6,"f":-0.089},{"w":6680.5,"f":0.036},{"w":6686.5,"f":0.316},{"w":6692.5,"f":-0.026},{"w":6697.8,"f":-0.167},{"w":6703.0,"f":0.005},{"w":6709.0,"f":0.269},{"w":6714.2,"f":-0.104},{"w":6718.0,"f":0.067},{"w":6722.5,"f":0.425},{"w":6727.7,"f":-0.042},{"w":6733.0,"f":-0.120},{"w":6739.0,"f":0.020},{"w":6743.4,"f":0.480},{"w":6749.4,"f":0.160},{"w":6753.9,"f":0.098},{"w":6759.2,"f":-0.143},{"w":6764.4,"f":0.262},{"w":6768.9,"f":0.067},{"w":6774.1,"f":0.036},{"w":6779.4,"f":0.005},{"w":6783.9,"f":0.316},{"w":6788.4,"f":-0.089},{"w":6792.9,"f":0.036},{"w":6798.9,"f":-0.136},{"w":6803.3,"f":0.036},{"w":6807.8,"f":0.215},{"w":6812.3,"f":0.067},{"w":6816.8,"f":0.083},{"w":6821.3,"f":0.277},{"w":6826.6,"f":-0.073},{"w":6830.3,"f":0.020},{"w":6834.8,"f":0.192},{"w":6839.3,"f":-0.073},{"w":6843.8,"f":-0.026},{"w":6848.3,"f":0.106},{"w":6852.8,"f":0.020},{"w":6857.3,"f":-0.073},{"w":6861.8,"f":0.067},{"w":6867.7,"f":0.036},{"w":6872.2,"f":-0.104},{"w":6876.7,"f":0.129},{"w":6881.2,"f":-0.128},{"w":6885.7,"f":-0.206},{"w":6890.2,"f":0.036},{"w":6895.5,"f":0.301},{"w":6900.7,"f":0.036},{"w":6905.2,"f":-0.159},{"w":6909.7,"f":-0.299},{"w":6914.2,"f":-0.073},{"w":6918.7,"f":-0.089},{"w":6923.2,"f":0.083},{"w":6927.6,"f":0.192},{"w":6932.1,"f":0.238},{"w":6936.6,"f":0.098},{"w":6941.1,"f":-0.198},{"w":6945.6,"f":-0.322},{"w":6950.1,"f":0.098},{"w":6955.4,"f":0.137},{"w":6959.9,"f":-0.104},{"w":6963.6,"f":-0.167},{"w":6968.1,"f":-0.026},{"w":6972.6,"f":-0.151},{"w":6977.1,"f":-0.003},{"w":6980.1,"f":-0.136},{"w":6984.6,"f":-0.361},{"w":6989.8,"f":-0.042},{"w":6995.0,"f":0.129},{"w":6999.5,"f":0.223},{"w":7004.0,"f":0.005},{"w":7008.5,"f":0.207},{"w":7014.5,"f":0.386},{"w":7019.0,"f":0.269},{"w":7023.5,"f":0.160},{"w":7028.0,"f":0.098},{"w":7032.5,"f":0.153},{"w":7038.5,"f":-0.283},{"w":7043.7,"f":0.083},{"w":7049.0,"f":-0.011},{"w":7053.5,"f":0.098},{"w":7058.7,"f":-0.026},{"w":7064.0,"f":0.005},
      {"w":7069.1,"f":-0.120},{"w":7073.6,"f":-0.229},{"w":7078.9,"f":-0.104},{"w":7082.6,"f":-0.042},{"w":7090.1,"f":0.036},{"w":7097.6,"f":0.083},{"w":7101.3,"f":-0.112},{"w":7105.1,"f":-0.026},{"w":7108.8,"f":0.020},{"w":7113.3,"f":-0.089},{"w":7117.8,"f":-0.026},{"w":7121.5,"f":0.246},{"w":7126.0,"f":0.160},{"w":7129.8,"f":0.129},{"w":7133.5,"f":-0.174},{"w":7137.3,"f":-0.073},{"w":7140.3,"f":-0.276},{"w":7144.7,"f":-0.081},{"w":7148.5,"f":-0.182},{"w":7153.7,"f":-0.174},{"w":7159.7,"f":-0.073},{"w":7164.2,"f":-0.252},{"w":7168.7,"f":0.075},{"w":7173.2,"f":-0.026},{"w":7177.7,"f":-0.174},{"w":7182.2,"f":-0.229},{"w":7186.7,"f":-0.026},{"w":7191.2,"f":-0.050},{"w":7195.7,"f":-0.159},{"w":7200.2,"f":-0.026},{"w":7203.2,"f":0.238},{"w":7207.6,"f":-0.058},{"w":7212.1,"f":0.036},{"w":7216.6,"f":0.067},{"w":7221.1,"f":0.083},{"w":7225.6,"f":-0.182},{"w":7230.1,"f":-0.104},{"w":7234.6,"f":0.067},{"w":7243.6,"f":-0.260},{"w":7247.3,"f":0.051},{"w":7251.1,"f":0.355},{"w":7254.8,"f":-0.042},{"w":7260.1,"f":-0.026},{"w":7264.6,"f":0.114},{"w":7269.0,"f":-0.276},{"w":7273.5,"f":-0.042},{"w":7278.0,"f":0.340},{"w":7282.5,"f":0.129},{"w":7287.0,"f":0.036},{"w":7291.5,"f":-0.097},{"w":7296.0,"f":-0.182},{"w":7300.5,"f":-0.151},{"w":7305.0,"f":-0.182},{"w":7309.5,"f":-0.011},{"w":7313.2,"f":0.005},{"w":7317.0,"f":-0.120},{"w":7320.7,"f":0.098},{"w":7324.5,"f":-0.291},{"w":7328.9,"f":-0.026},{"w":7333.4,"f":-0.058},{"w":7339.4,"f":-0.478},{"w":7344.7,"f":0.277},{"w":7349.9,"f":-0.151},{"w":7354.4,"f":0.192},{"w":7358.9,"f":0.285},{"w":7363.4,"f":0.269},{"w":7367.1,"f":-0.174},{"w":7370.9,"f":-0.136},{"w":7375.4,"f":0.238},{"w":7379.9,"f":-0.182},{"w":7384.4,"f":-0.136},{"w":7389.6,"f":-0.011},{"w":7394.1,"f":0.067},{"w":7398.6,"f":-0.354},{"w":7403.1,"f":0.285},{"w":7408.3,"f":0.223},{"w":7412.8,"f":0.036},{"w":7417.3,"f":-0.104},{"w":7421.8,"f":-0.136},{"w":7425.5,"f":-0.307},{"w":7429.3,"f":-0.120},{"w":7433.0,"f":-0.128},{"w":7436.8,"f":-0.245},{"w":7440.5,"f":-0.042},{"w":7445.8,"f":0.005},{"w":7450.3,"f":0.036},{"w":7454.0,"f":0.121},{"w":7457.7,"f":-0.042},{"w":7461.5,"f":0.036},{"w":7465.2,"f":0.137},{"w":7469.7,"f":-0.058},{"w":7474.2,"f":-0.307},{"w":7478.7,"f":-0.167},{"w":7483.2,"f":0.036},{"w":7487.7,"f":0.277},{"w":7492.2,"f":0.067},{"w":7496.7,"f":0.176},{"w":7500.4,"f":-0.089},{"w":7504.2,"f":0.067},{"w":7508.7,"f":0.036},{"w":7513.2,"f":0.098},{"w":7517.6,"f":-0.089},{"w":7522.1,"f":0.285},{"w":7526.6,"f":0.410},{"w":7531.1,"f":0.129},{"w":7535.6,"f":-0.042},{"w":7540.1,"f":0.036},{"w":7544.6,"f":0.192},{"w":7549.1,"f":0.176},{"w":7553.6,"f":0.145},{"w":7562.6,"f":0.036},{"w":7567.1,"f":-0.221},{"w":7571.6,"f":0.036},{"w":7576.1,"f":0.223},{"w":7580.5,"f":0.098},{"w":7584.3,"f":-0.237},{"w":7589.5,"f":0.067},{"w":7594.0,"f":0.223},{"w":7598.5,"f":0.192},{"w":7603.0,"f":0.262},{"w":7607.5,"f":0.098},{"w":7612.0,"f":0.363},{"w":7616.5,"f":0.067},{"w":7621.0,"f":-0.159},{"w":7625.5,"f":0.480},{"w":7630.0,"f":-0.058},{"w":7634.5,"f":-0.229},{"w":7639.0,"f":0.534},{"w":7643.5,"f":0.145},{"w":7647.9,"f":0.160},{"w":7651.7,"f":0.269},{"w":7655.4,"f":0.121},{"w":7659.9,"f":0.160},{"w":7664.4,"f":0.145},{"w":7668.9,"f":0.083},{"w":7673.4,"f":0.067},{"w":7677.9,"f":-0.089},{"w":7682.4,"f":-0.058},{"w":7686.9,"f":-0.011},{"w":7691.4,"f":-0.104},{"w":7700.4,"f":-0.128},{"w":7704.1,"f":0.067},{"w":7707.9,"f":0.550},{"w":7711.6,"f":-0.136},{"w":7715.3,"f":-0.548},{"w":7719.8,"f":-0.400},{"w":7724.3,"f":-0.136},{"w":7728.8,"f":0.083},{"w":7733.3,"f":-0.151},{"w":7737.8,"f":0.005},{"w":7742.3,"f":0.067},{"w":7746.8,"f":0.083},{"w":7751.3,"f":0.145},{"w":7755.8,"f":0.192},{"w":7760.3,"f":0.129},{"w":7764.8,"f":-0.213},{"w":7769.2,"f":-0.167},{"w":7773.0,"f":0.238},{"w":7776.7,"f":-0.291},{"w":7781.2,"f":-0.042},{"w":7785.7,"f":-0.198},{"w":7790.2,"f":-0.089},{"w":7794.7,"f":0.098},{"w":7799.2,"f":0.145},{"w":7803.7,"f":0.238},{"w":7808.2,"f":-0.198},{"w":7812.7,"f":0.254},{"w":7817.2,"f":-0.198},{"w":7821.7,"f":0.192},{"w":7826.2,"f":0.176},{"w":7830.7,"f":-0.151},{"w":7835.1,"f":0.472},{"w":7839.6,"f":0.192},{"w":7844.1,"f":0.316},{"w":7848.6,"f":0.083},{"w":7853.1,"f":0.223},{"w":7857.6,"f":0.207},{"w":7862.1,"f":0.005},{"w":7866.6,"f":0.698},{"w":7871.1,"f":0.160},{"w":7880.1,"f":-0.260},{"w":7884.6,"f":0.674},{"w":7889.1,"f":0.098},{"w":7893.6,"f":0.067},{"w":7898.0,"f":-0.026},{"w":7902.5,"f":0.098},{"w":7907.0,"f":-0.042},{"w":7911.5,"f":0.192},{"w":7916.0,"f":0.410},{"w":7920.5,"f":0.020},{"w":7925.0,"f":-0.073},{"w":7929.5,"f":-0.058},{"w":7934.0,"f":0.083},{"w":7938.5,"f":0.098},{"w":7943.7,"f":-0.556},{"w":7949.0,"f":-0.026},{"w":7953.5,"f":0.145},{"w":7958.0,"f":-0.400},{"w":7962.4,"f":0.036},{"w":7966.9,"f":-0.120},{"w":7971.4,"f":-0.322},{"w":7975.9,"f":0.137},{"w":7980.4,"f":-0.026},{"w":7984.9,"f":-0.120},{"w":7989.4,"f":0.176},{"w":7993.9,"f":-0.151},{"w":7998.4,"f":-0.136},{"w":8002.9,"f":-0.026},{"w":8007.4,"f":-0.089},{"w":8011.9,"f":-0.073},{"w":8016.4,"f":-0.276},{"w":8020.9,"f":0.067},{"w":8025.3,"f":0.698},{"w":8029.8,"f":-0.073},{"w":8034.3,"f":0.067},{"w":8038.8,"f":0.145},{"w":8047.8,"f":0.176},{"w":8052.3,"f":0.223},{"w":8056.8,"f":0.254},{"w":8061.3,"f":0.067},{"w":8065.8,"f":-0.260},{"w":8070.3,"f":-0.089},{"w":8074.8,"f":0.223},{"w":8079.3,"f":0.207},{"w":8083.8,"f":0.160},{"w":8088.2,"f":0.534},{"w":8092.7,"f":0.020},{"w":8097.2,"f":0.534},{"w":8101.7,"f":0.145},{"w":8106.2,"f":0.347},{"w":8110.7,"f":0.051},{"w":8115.2,"f":0.098},{"w":8119.7,"f":0.254},{"w":8124.2,"f":0.207},{"w":8128.7,"f":-0.159},{"w":8133.2,"f":0.254},{"w":8137.7,"f":0.192},{"w":8142.2,"f":0.051},{"w":8146.7,"f":-0.073},{"w":8151.1,"f":0.223},{"w":8155.6,"f":0.160},{"w":8160.1,"f":0.098},{"w":8164.6,"f":-0.042},{"w":8169.1,"f":0.098},{"w":8173.6,"f":0.192},{"w":8178.1,"f":0.129},{"w":8182.6,"f":0.051},{"w":8187.1,"f":0.036},{"w":8191.6,"f":0.067},{"w":8196.1,"f":0.347},{"w":8200.6,"f":0.285},{"w":8205.1,"f":0.067},{"w":8209.5,"f":0.020},{"w":8214.0,"f":-0.026},{"w":8218.5,"f":-0.136},
      {"w":8222.2,"f":-0.143},{"w":8227.5,"f":0.098},{"w":8231.2,"f":0.067},{"w":8235.7,"f":-0.026},{"w":8240.9,"f":0.316},{"w":8245.4,"f":-0.026},{"w":8250.7,"f":-0.268},{"w":8255.9,"f":0.121},{"w":8259.7,"f":-0.104},{"w":8263.4,"f":0.083},{"w":8267.9,"f":-0.237},{"w":8272.4,"f":0.083},{"w":8276.9,"f":-0.167},{"w":8282.1,"f":-0.502},{"w":8285.9,"f":-0.182},{"w":8290.4,"f":-0.307},{"w":8294.9,"f":0.308},{"w":8299.3,"f":-0.058},{"w":8303.1,"f":0.145},{"w":8306.8,"f":-0.058},{"w":8310.6,"f":0.223},{"w":8315.8,"f":0.371},{"w":8320.3,"f":0.145},{"w":8324.8,"f":0.207},{"w":8330.8,"f":-0.089},{"w":8336.0,"f":-0.533},{"w":8340.5,"f":0.293},{"w":8345.8,"f":0.308},{"w":8350.3,"f":0.005},{"w":8355.5,"f":0.129},{"w":8360.7,"f":0.425},{"w":8364.5,"f":0.511},{"w":8369.0,"f":-0.073},{"w":8374.2,"f":0.114},{"w":8379.5,"f":0.137},{"w":8387.0,"f":0.036},{"w":8392.2,"f":0.145},{"w":8396.7,"f":-0.151},{"w":8401.2,"f":0.051},{"w":8405.7,"f":-0.120},{"w":8409.4,"f":-0.361},{"w":8413.2,"f":0.051},{"w":8418.4,"f":-0.112},{"w":8422.9,"f":0.293},{"w":8427.4,"f":-0.393},{"w":8432.6,"f":0.020},{"w":8436.4,"f":0.083},{"w":8440.1,"f":0.168},{"w":8444.6,"f":-0.128},{"w":8449.1,"f":0.067},{"w":8453.6,"f":-0.120},{"w":8458.1,"f":-0.026},{"w":8463.3,"f":-0.120},{"w":8467.8,"f":-0.042},{"w":8471.6,"f":-0.167},{"w":8476.1,"f":-0.026},{"w":8480.6,"f":0.238},{"w":8484.3,"f":-0.089},{"w":8488.8,"f":-0.221},{"w":8493.3,"f":0.129},{"w":8497.8,"f":0.480},{"w":8503.0,"f":-0.245},{"w":8507.5,"f":0.036},{"w":8512.8,"f":0.301},{"w":8518.0,"f":-0.073},{"w":8523.2,"f":-0.299},{"w":8527.7,"f":-0.151},{"w":8533.0,"f":-0.136},{"w":8537.5,"f":0.036},{"w":8542.0,"f":-0.073},{"w":8545.7,"f":-0.229},{"w":8550.2,"f":0.020},{"w":8554.7,"f":0.036},{"w":8558.4,"f":0.121},{"w":8562.9,"f":-0.058},{"w":8567.4,"f":-0.026},{"w":8571.9,"f":-0.104},{"w":8576.4,"f":-0.073},{"w":8580.1,"f":-0.260},{"w":8585.4,"f":0.184},{"w":8589.9,"f":-0.026},{"w":8594.4,"f":0.067},{"w":8598.1,"f":-0.011},{"w":8602.6,"f":0.090},{"w":8607.1,"f":-0.167},{"w":8611.6,"f":-0.120},{"w":8616.1,"f":-0.151},{"w":8621.3,"f":-0.011},{"w":8627.3,"f":0.363},{"w":8631.8,"f":-0.104},{"w":8635.6,"f":-0.463},{"w":8640.1,"f":-0.245},{"w":8645.3,"f":-0.315},{"w":8649.8,"f":-0.128},{"w":8652.8,"f":-0.182},{"w":8657.3,"f":-0.338},{"w":8661.0,"f":0.098},{"w":8664.8,"f":0.207},{"w":8669.3,"f":0.083},{"w":8673.7,"f":0.160},{"w":8678.2,"f":0.098},{"w":8682.7,"f":0.067},{"w":8687.2,"f":-0.198},{"w":8690.2,"f":-0.307},{"w":8694.0,"f":-0.416},{"w":8697.7,"f":-0.089},{"w":8702.2,"f":0.067},{"w":8706.7,"f":-0.073},{"w":8711.2,"f":-0.182},{"w":8716.4,"f":-0.237},{"w":8721.7,"f":-0.026},{"w":8726.2,"f":-0.011},{"w":8731.4,"f":-0.120},{"w":8735.9,"f":0.083},{"w":8740.4,"f":0.269},{"w":8744.1,"f":0.129},{"w":8748.6,"f":0.005},{"w":8753.1,"f":0.176},{"w":8757.6,"f":0.783},{"w":8761.4,"f":0.534},{"w":8765.1,"f":-0.182},{"w":8768.9,"f":0.254},{"w":8772.6,"f":0.565},{"w":8776.3,"f":-0.151},{"w":8780.1,"f":0.301},{"w":8783.8,"f":-0.026},{"w":8788.3,"f":-0.073},{"w":8793.6,"f":-0.322},{"w":8798.8,"f":0.067},{"w":8803.3,"f":0.083},{"w":8807.8,"f":0.020},{"w":8812.3,"f":0.129},{"w":8816.8,"f":0.005},{"w":8821.3,"f":-0.307},{"w":8826.5,"f":-0.276},{"w":8831.0,"f":-0.673},{"w":8836.2,"f":-0.283},{"w":8840.7,"f":-0.369},{"w":8845.2,"f":0.083},{"w":8849.7,"f":0.098},{"w":8854.2,"f":-0.120},{"w":8859.5,"f":0.168},{"w":8864.0,"f":-0.042},{"w":8868.4,"f":-0.354},{"w":8872.9,"f":-0.058},{"w":8877.4,"f":0.121},{"w":8882.7,"f":-0.354},{"w":8887.2,"f":-0.182},{"w":8891.7,"f":0.098},{"w":8896.1,"f":0.114},{"w":8900.6,"f":0.129},{"w":8905.1,"f":0.098},{"w":8909.6,"f":-0.291},{"w":8914.9,"f":-0.338},{"w":8920.8,"f":-0.431},{"w":8925.3,"f":-0.089},{"w":8929.8,"f":0.176},{"w":8934.3,"f":-0.182},{"w":8938.8,"f":-0.089},{"w":8943.3,"f":0.231},{"w":8947.8,"f":-0.120},{"w":8952.3,"f":-0.136},{"w":8956.8,"f":-0.260},{"w":8961.3,"f":-0.151},{"w":8965.8,"f":-0.229},{"w":8970.3,"f":-0.346},{"w":8974.8,"f":-0.167},{"w":8979.3,"f":-0.213},{"w":8983.8,"f":-0.564},{"w":8988.2,"f":-0.431},{"w":8992.0,"f":-0.026},{"w":8995.7,"f":0.340},{"w":9000.2,"f":-0.026},{"w":9004.7,"f":-0.058},{"w":9013.7,"f":0.067},{"w":9018.2,"f":-0.089},{"w":9022.7,"f":0.114},{"w":9027.2,"f":-0.120},{"w":9031.7,"f":-0.447},{"w":9036.2,"f":-0.136},{"w":9039.9,"f":-0.447},{"w":9043.7,"f":-1.140},{"w":9047.4,"f":-0.213},{"w":9051.1,"f":0.098},{"w":9055.6,"f":-0.206},{"w":9060.1,"f":0.176},{"w":9064.6,"f":-0.120},{"w":9069.1,"f":-0.011},{"w":9073.6,"f":-0.136},{"w":9078.1,"f":0.005},{"w":9082.6,"f":-0.073},{"w":9087.1,"f":-0.361},{"w":9091.6,"f":0.067},{"w":9096.1,"f":0.324},{"w":9100.6,"f":-0.042},{"w":9105.1,"f":-0.058},{"w":9109.6,"f":0.090},{"w":9114.1,"f":-0.058},{"w":9118.5,"f":-0.011},{"w":9123.0,"f":-0.073},{"w":9127.5,"f":0.098},{"w":9132.0,"f":-0.026},{"w":9136.5,"f":0.207},{"w":9141.0,"f":-0.058},{"w":9144.0,"f":-0.011},{"w":9147.7,"f":-0.416},{"w":9151.5,"f":-0.213},{"w":9156.0,"f":-0.058},{"w":9160.5,"f":0.308},{"w":9165.0,"f":-0.167},{"w":9169.5,"f":-0.058},{"w":9174.0,"f":0.098},{"w":9178.5,"f":-0.073},{"w":9182.9,"f":0.160},{"w":9187.4,"f":0.378},{"w":9191.9,"f":0.223},{"w":9196.4,"f":0.363},{"w":9200.9,"f":0.223},{"w":9205.4,"f":0.316},{"w":9209.9,"f":0.067},{"w":9214.4,"f":0.285},{"w":9218.9,"f":0.020},{"w":9223.4,"f":-0.198},{"w":9227.9,"f":-0.011},{"w":9232.4,"f":-0.003},{"w":9236.9,"f":-0.011},{"w":9241.4,"f":0.098},{"w":9244.3,"f":-0.315},{"w":9248.8,"f":0.020},{"w":9253.3,"f":0.316},{"w":9257.8,"f":0.005},{"w":9261.6,"f":0.223},{"w":9265.3,"f":0.207},{"w":9269.8,"f":-0.058},{"w":9274.3,"f":0.098},{"w":9278.8,"f":-0.026},{"w":9283.3,"f":-0.400},{"w":9287.8,"f":-0.385},{"w":9290.8,"f":-0.338},{"w":9293.8,"f":-0.167},{"w":9298.3,"f":-0.159}
    ]
  },
  "layer": [
    {
      "data": {"name": "model"},
      "mark": {"type": "line", "color": "#008000", "strokeWidth": 1.7, "clip": true},
      "encoding": {
        "x": {
          "field": "w",
          "type": "quantitative",
          "scale": {"domain": [4750, 9300], "nice": false, "zero": false},
          "axis": {
            "values": [5000, 6000, 7000, 8000, 9000],
            "format": "d",
            "labelFontSize": 27,
            "labelPadding": 15,
            "title": "Wavelength",
            "titleFontSize": 33,
            "titlePadding": 3
          }
        },
        "y": {
          "field": "f",
          "type": "quantitative",
          "scale": {"domain": [-1.254, 1.129], "nice": false, "zero": false},
          "axis": {
            "values": [-1, -0.5, 0, 0.5, 1],
            "format": ".1f",
            "labelFontSize": 34,
            "labelPadding": 19,
            "title": "10⁻¹⁸ erg s⁻¹ cm⁻² Å⁻¹",
            "titleFontSize": 42,
            "titlePadding": 26
          }
        }
      }
    },
    {
      "data": {"values": [{}]},
      "mark": {"type": "rule", "color": "#0000ff", "strokeWidth": 5.3},
      "encoding": {"y": {"datum": 0}}
    },
    {
      "data": {"name": "flux"},
      "mark": {"type": "line", "color": "black", "strokeWidth": 4, "clip": true},
      "encoding": {
        "x": {"field": "w", "type": "quantitative"},
        "y": {"field": "f", "type": "quantitative"}
      }
    }
  ]
}
